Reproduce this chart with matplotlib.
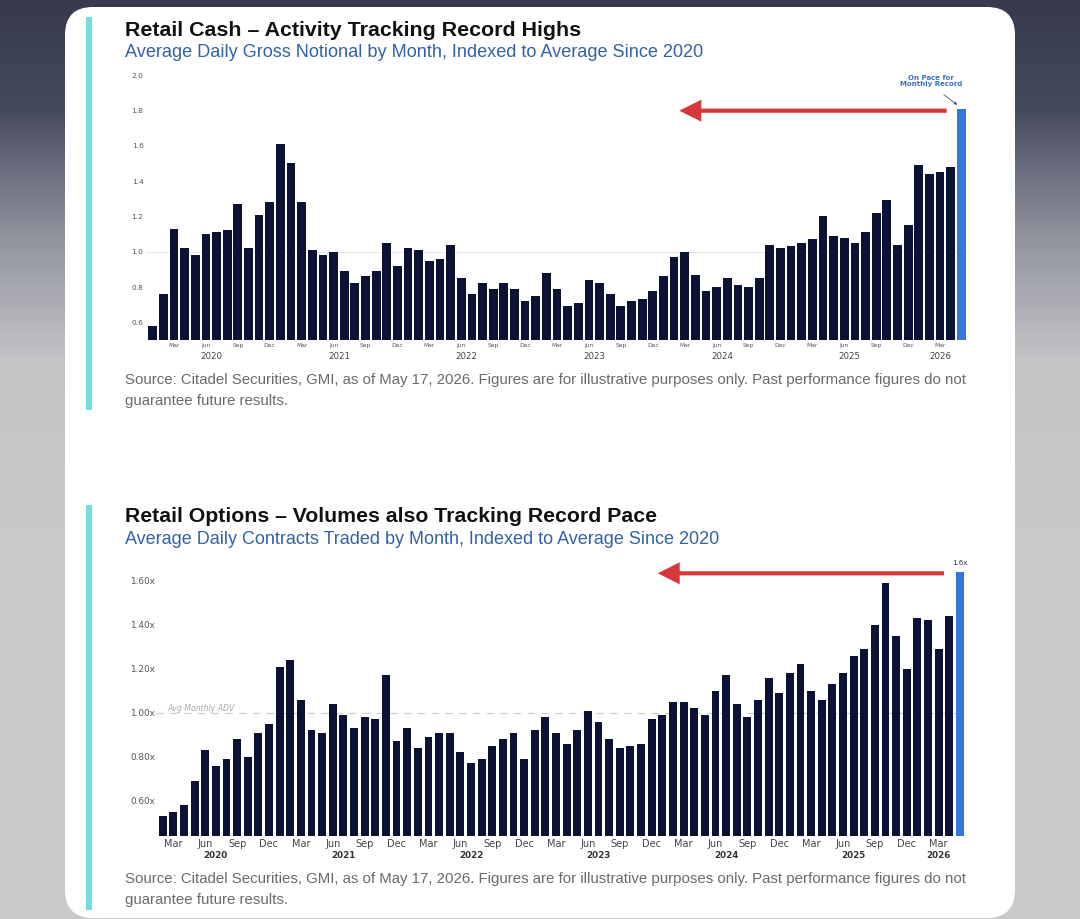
import numpy as np
import pandas as pd
import matplotlib
matplotlib.use("Agg")
import matplotlib.pyplot as plt
from matplotlib.patches import FancyBboxPatch, FancyArrow, Rectangle
from matplotlib.colors import to_rgb

# ---------------- data ----------------
cash_start = "2020-01-01"
cash_values = [
    0.58, 0.76, 1.13, 1.02, 0.98, 1.10, 1.11, 1.12, 1.27, 1.02, 1.21, 1.28,   # 2020
    1.61, 1.50, 1.28, 1.01, 0.98, 1.00, 0.89, 0.82, 0.86, 0.89, 1.05, 0.92,   # 2021
    1.02, 1.01, 0.95, 0.96, 1.04, 0.85, 0.76, 0.82, 0.79, 0.82, 0.79, 0.72,   # 2022
    0.75, 0.88, 0.79, 0.69, 0.71, 0.84, 0.82, 0.76, 0.69, 0.72, 0.73, 0.78,   # 2023
    0.86, 0.97, 1.00, 0.87, 0.78, 0.80, 0.85, 0.81, 0.80, 0.85, 1.04, 1.02,   # 2024
    1.03, 1.05, 1.07, 1.20, 1.09, 1.08, 1.05, 1.11, 1.22, 1.29, 1.04, 1.15,   # 2025
    1.49, 1.44, 1.45, 1.48, 1.81,                                             # 2026
]
options_start = "2020-02-01"
options_values = [
    0.53, 0.55, 0.58, 0.69, 0.83, 0.76, 0.79, 0.88, 0.80, 0.91, 0.95,         # 2020
    1.21, 1.24, 1.06, 0.92, 0.91, 1.04, 0.99, 0.93, 0.98, 0.97, 1.17, 0.87,   # 2021
    0.93, 0.84, 0.89, 0.91, 0.91, 0.82, 0.77, 0.79, 0.85, 0.88, 0.91, 0.79,   # 2022
    0.92, 0.98, 0.91, 0.86, 0.92, 1.01, 0.96, 0.88, 0.84, 0.85, 0.86, 0.97,   # 2023
    0.99, 1.05, 1.05, 1.02, 0.99, 1.10, 1.17, 1.04, 0.98, 1.06, 1.16, 1.09,   # 2024
    1.18, 1.22, 1.10, 1.06, 1.13, 1.18, 1.26, 1.29, 1.40, 1.59, 1.35, 1.20,   # 2025
    1.43, 1.42, 1.29, 1.44, 1.64,                                             # 2026
]
month_tick_names = ["Mar", "Jun", "Sep", "Dec"]
year_labels = ["2020", "2021", "2022", "2023", "2024", "2025", "2026"]
cash_yticks = [0.6, 0.8, 1.0, 1.2, 1.4, 1.6, 1.8, 2.0]
cash_yticklabels = ["0.6", "0.8", "1.0", "1.2", "1.4", "1.6", "1.8", "2.0"]
opt_yticks = [0.6, 0.8, 1.0, 1.2, 1.4, 1.6]
opt_yticklabels = ["0.60x", "0.80x", "1.00x", "1.20x", "1.40x", "1.60x"]

title1 = "Retail Cash \u2013 Activity Tracking Record Highs"
subtitle1 = "Average Daily Gross Notional by Month, Indexed to Average Since 2020"
title2 = "Retail Options \u2013 Volumes also Tracking Record Pace"
subtitle2 = "Average Daily Contracts Traded by Month, Indexed to Average Since 2020"
source_l1 = ("Source: Citadel Securities, GMI, as of May 17, 2026. Figures are for "
             "illustrative purposes only. Past performance figures do not")
source_l2 = "guarantee future results."

# ---------------- figure ----------------
W, H = 1080, 919
fig = plt.figure(figsize=(W / 100, H / 100), dpi=100)

def px_axes(left, top, right, bottom, **kw):
    return fig.add_axes([left / W, 1 - bottom / H, (right - left) / W, (bottom - top) / H], **kw)

# background
ax_bg = fig.add_axes([0, 0, 1, 1], zorder=0)
ax_bg.set_xlim(0, W)
ax_bg.set_ylim(H, 0)
ax_bg.axis("off")
stops_y = [0, 110, 230, 360, 600, 919]
stops_c = ["#363a4c", "#464a5e", "#8e909c", "#c4c4c7", "#cbcbcb", "#c9c9c9"]
ys = np.arange(H)
cols = np.array([to_rgb(c) for c in stops_c])
grad = np.stack([np.interp(ys, stops_y, cols[:, k]) for k in range(3)], axis=-1)
img = np.repeat(grad[:, None, :], W, axis=1)
ax_bg.imshow(img, extent=[0, W, H, 0], aspect="auto", zorder=0)
card = FancyBboxPatch((65, 7), 950, 911, boxstyle="round,pad=0,rounding_size=28",
                      facecolor="white", edgecolor="none", zorder=1)
ax_bg.add_patch(card)
ax_bg.add_patch(Rectangle((86, 17), 6, 393, facecolor="#74dde0", edgecolor="none", zorder=2))
ax_bg.add_patch(Rectangle((86, 505), 6, 405, facecolor="#74dde0", edgecolor="none", zorder=2))

renderer = fig.canvas.get_renderer()

def fit_text(ax, x, y, s, width, size0=12, **kw):
    t = ax.text(x, y, s, fontsize=size0, **kw)
    w = t.get_window_extent(renderer).width
    t.set_fontsize(size0 * width / w)
    return t

sans = ["Liberation Sans", "DejaVu Sans"]
fit_text(ax_bg, 125, 30.5, title1, 452, family=sans, weight="bold", color="#111111", va="center", zorder=3)
fit_text(ax_bg, 125, 52.5, subtitle1, 580, family=sans, color="#3361a8", va="center", zorder=3)
s1 = fit_text(ax_bg, 125, 380, source_l1, 846, family=sans, color="#6a6a6a", va="center", zorder=3)
ax_bg.text(125, 401, source_l2, fontsize=s1.get_fontsize(), family=sans, color="#6a6a6a", va="center", zorder=3)
fit_text(ax_bg, 125, 516.5, title2, 528, family=sans, weight="bold", color="#111111", va="center", zorder=3)
fit_text(ax_bg, 125, 539, subtitle2, 597, family=sans, color="#3361a8", va="center", zorder=3)
s2 = fit_text(ax_bg, 125, 879.5, source_l1, 844, family=sans, color="#6a6a6a", va="center", zorder=3)
ax_bg.text(125, 900, source_l2, fontsize=s2.get_fontsize(), family=sans, color="#6a6a6a", va="center", zorder=3)

navy = "#0c1236"
blue = "#3478dc"

def draw_bars(ax, start, values, width):
    dates = pd.date_range(start, periods=len(values), freq="MS")
    x = np.arange(len(values))
    colors = [navy] * (len(values) - 1) + [blue]
    ax.bar(x, values, width=width, color=colors, edgecolor="none", zorder=3)
    return dates, x

def style_axes(ax):
    for sp in ax.spines.values():
        sp.set_visible(False)
    ax.set_facecolor("none")
    ax.tick_params(length=0)

# ---------------- top chart ----------------
c_x0, c_dx = 152.7, 10.64
c_lim = (-0.6, len(cash_values) - 0.4)
ax1 = px_axes(c_x0 + c_lim[0] * c_dx, 75, c_x0 + c_lim[1] * c_dx, 340, zorder=2)
style_axes(ax1)
dates1, x1 = draw_bars(ax1, cash_start, cash_values, 0.82)
ax1.set_xlim(*c_lim)
ax1.set_ylim(0.5, 2.0)
ax1.axhline(1.0, color="#e8e8e8", lw=0.8, zorder=1)
ax1.set_yticks(cash_yticks)
ax1.set_yticklabels(cash_yticklabels, fontsize=5.3, color="#555555")
ax1.tick_params(axis="y", pad=2)
mt = [i for i, d in enumerate(dates1) if d.strftime("%b") in month_tick_names]
ax1.set_xticks(mt)
ax1.set_xticklabels([dates1[i].strftime("%b") for i in mt], fontsize=4.3, color="#555555")
ax1.tick_params(axis="x", pad=2.5)
for yl in year_labels:
    idx = [i for i, d in enumerate(dates1) if str(d.year) == yl]
    pos = idx[0] + 5.5 if len(idx) == 12 else idx[min(2, len(idx) - 1)]
    ax1.annotate(yl, xy=(pos, 0), xycoords=("data", "axes fraction"), xytext=(0, -12),
                 textcoords="offset points", ha="center", va="center", fontsize=6.2, color="#444444")

# ---------------- bottom chart ----------------
o_x0, o_dx = 162.7, 10.63
o_lim = (-0.6, len(options_values) - 0.4)
ax2 = px_axes(o_x0 + o_lim[0] * o_dx, 712.7 - 0.72 * 220, o_x0 + o_lim[1] * o_dx, 712.7 + 0.56 * 220, zorder=2)
style_axes(ax2)
dates2, x2 = draw_bars(ax2, options_start, options_values, 0.74)
ax2.set_xlim(*o_lim)
ax2.set_ylim(0.44, 1.72)
ax2.axhline(1.0, color="#cfcfcf", lw=0.9, ls=(0, (6, 5)), zorder=1)
ax2.set_yticks(opt_yticks)
ax2.set_yticklabels(opt_yticklabels, fontsize=6.4, color="#555555")
ax2.tick_params(axis="y", pad=1)
mt2 = [i for i, d in enumerate(dates2) if d.strftime("%b") in month_tick_names]
ax2.set_xticks(mt2)
ax2.set_xticklabels([dates2[i].strftime("%b") for i in mt2], fontsize=7, color="#444444")
ax2.tick_params(axis="x", pad=2.5)
for yl in year_labels:
    idx = [i for i, d in enumerate(dates2) if str(d.year) == yl]
    if len(idx) >= 11:
        pos = [i for i in idx if dates2[i].month == 7][0]
    else:
        pos = [i for i in idx if dates2[i].month == 3][0]
    ax2.annotate(yl, xy=(pos, 0), xycoords=("data", "axes fraction"), xytext=(0, -14.2),
                 textcoords="offset points", ha="center", va="center", fontsize=6.3,
                 weight="bold", color="#333333")
ax2.text(0.4, 1.0, "Avg Monthly ADV", fontsize=5.6, style="italic", color="#a8a8a8",
         ha="left", va="bottom", zorder=4, transform=ax2.transData)
ax2.annotate("1.6x", xy=(x2[-1], options_values[-1]), xytext=(0, 4), textcoords="offset points",
             ha="center", va="bottom", fontsize=5, color="#333333")

# ---------------- overlay (arrows, notes) ----------------
ax_o = fig.add_axes([0, 0, 1, 1], zorder=5)
ax_o.set_xlim(0, W)
ax_o.set_ylim(H, 0)
ax_o.axis("off")
ax_o.patch.set_visible(False)
red = "#d6373a"
ax_o.add_patch(FancyArrow(946.7, 110.7, 679.3 - 946.7, 0, width=4.2, head_width=22, head_length=22,
                          length_includes_head=True, color=red, lw=0))
ax_o.add_patch(FancyArrow(944, 573.3, 657.7 - 944, 0, width=4.2, head_width=22, head_length=22,
                          length_includes_head=True, color=red, lw=0))
ax_o.text(931, 81, "On Pace for\nMonthly Record", fontsize=5, weight="bold", color="#3a6fc6",
          ha="center", va="center", linespacing=1.1)
ax_o.annotate("", xy=(959.5, 106.5), xytext=(941.5, 93),
              arrowprops=dict(arrowstyle="-|>", color="#4a5670", lw=0.6, mutation_scale=4))

fig.savefig("out.png", dpi=100)
